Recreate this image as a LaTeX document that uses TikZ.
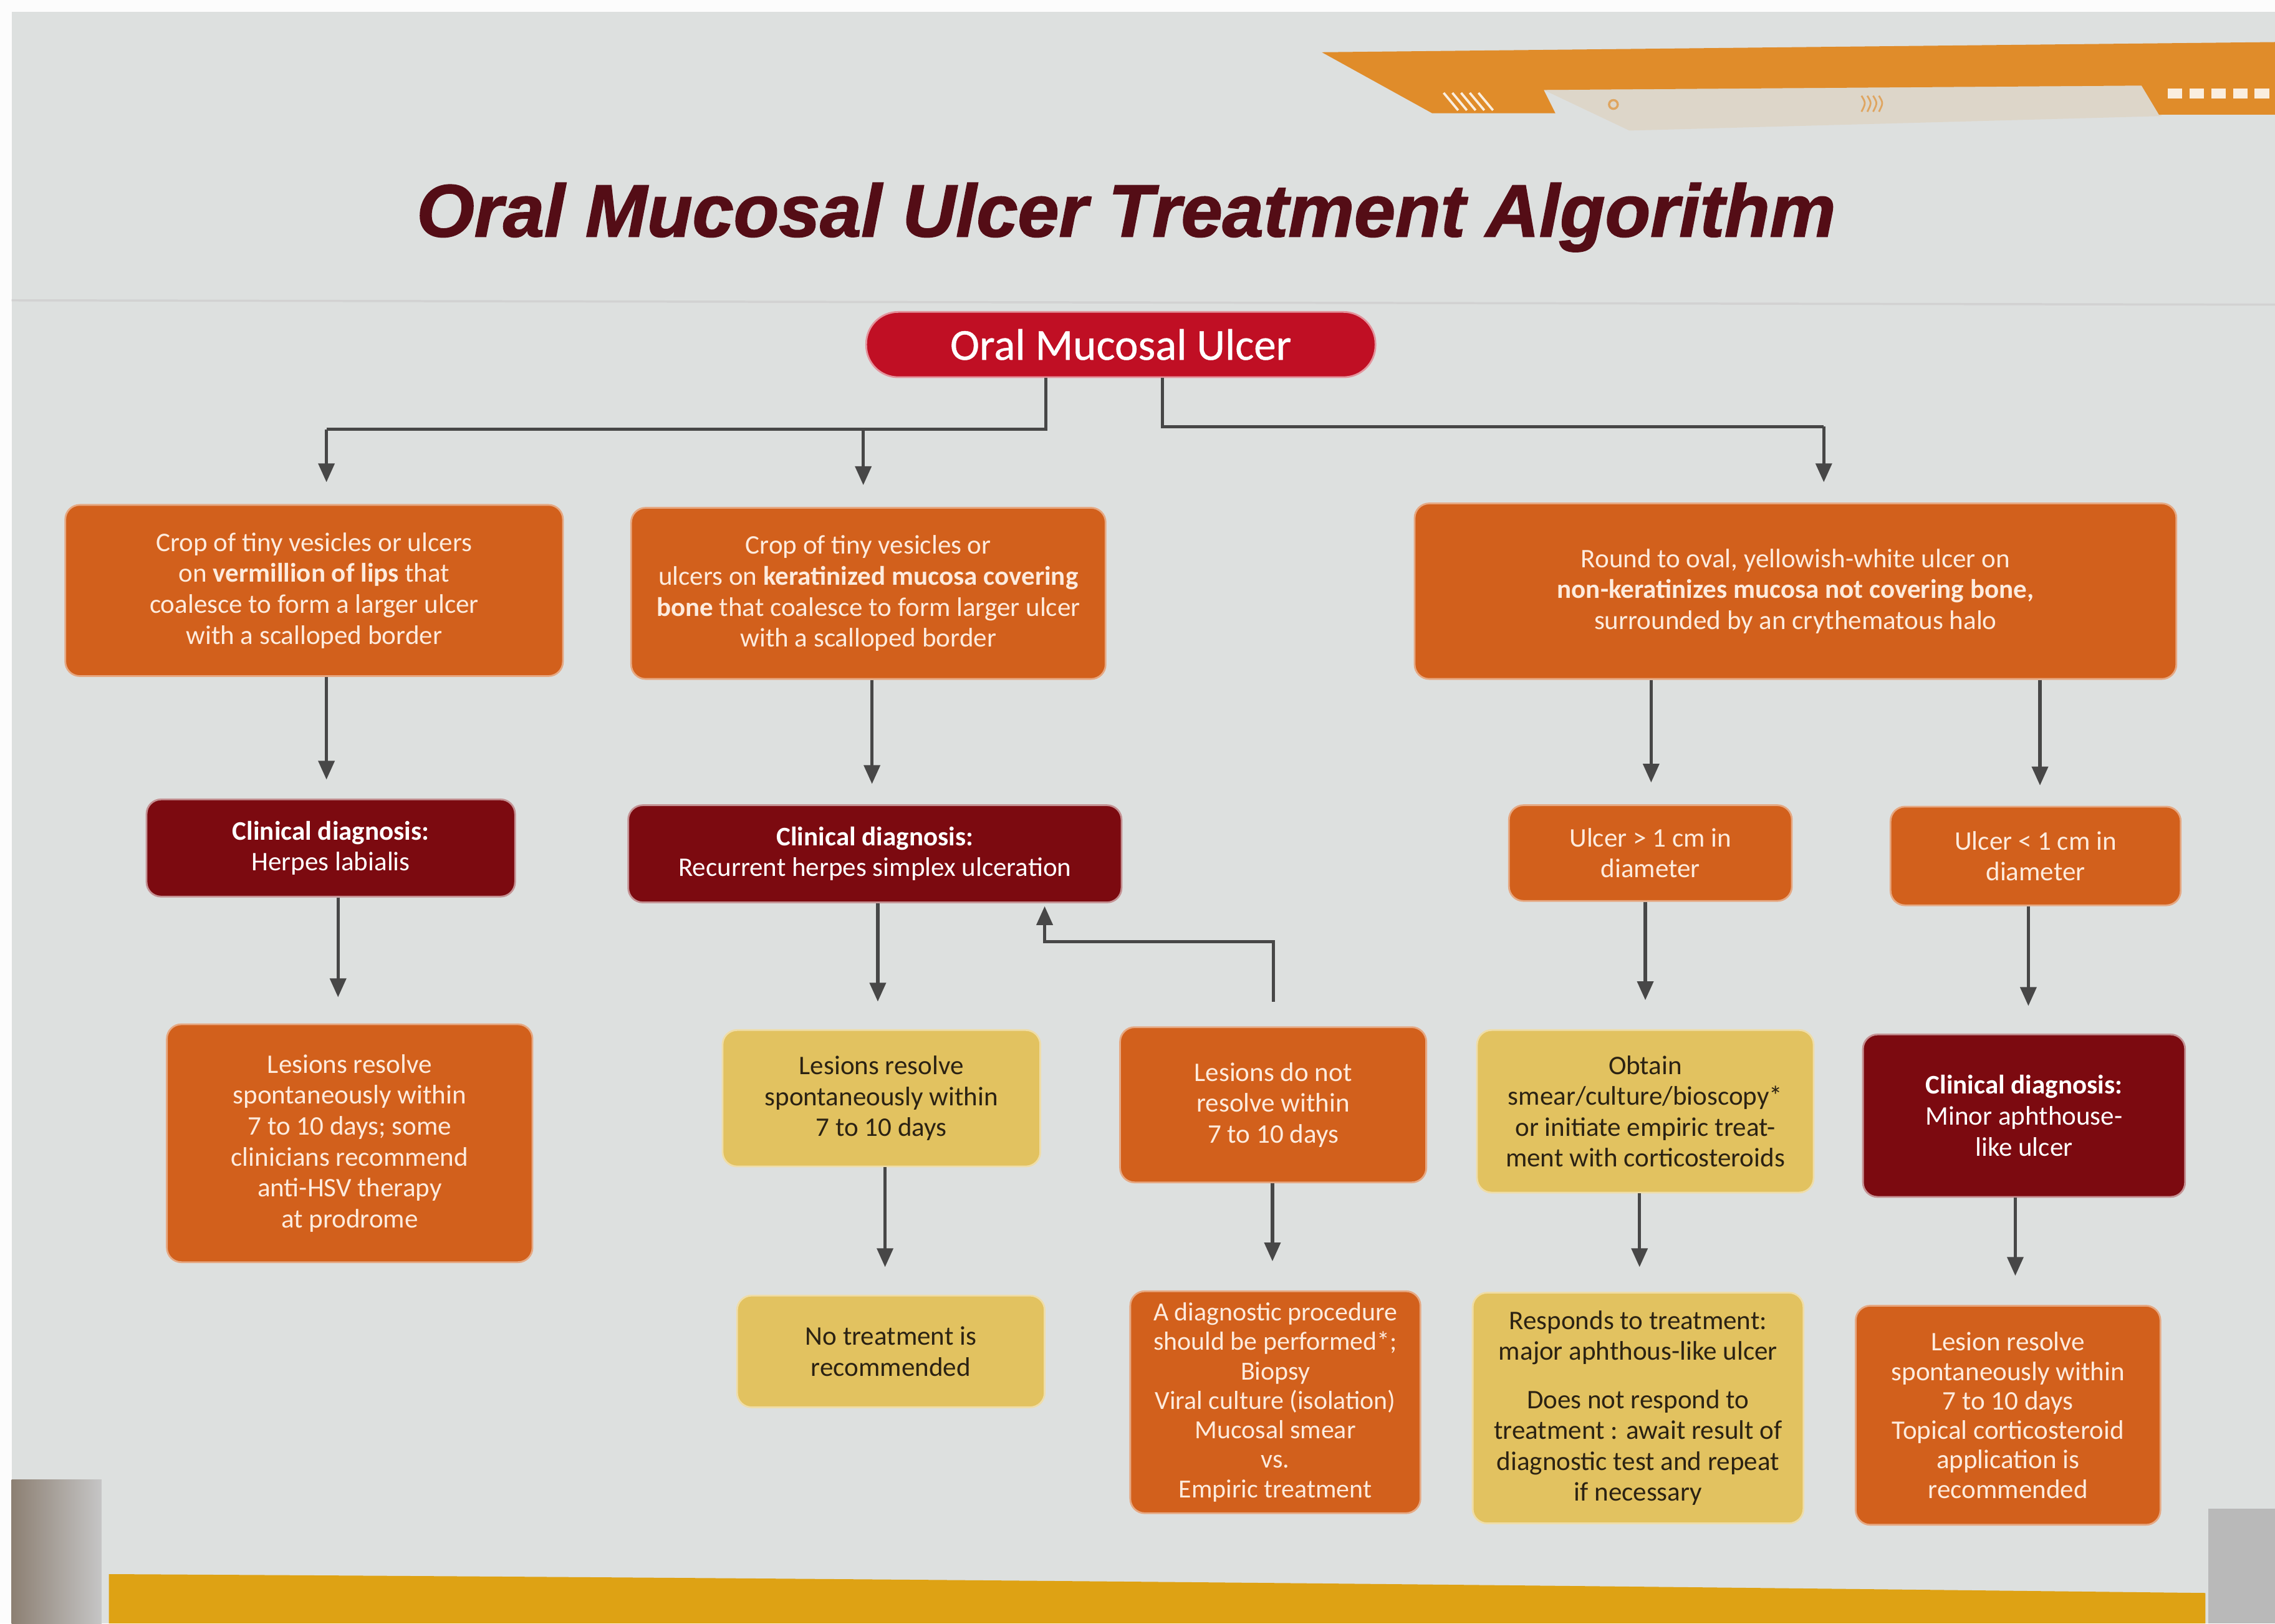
\documentclass[tikz,border=0pt]{standalone}
\usepackage{fontspec}
\usepackage{graphicx}
\setmainfont{Carlito}
\newfontfamily\titlefont[FakeBold=1.6]{Liberation Sans}
\newfontfamily\rootfont[FakeBold=0.6]{Carlito}
\usetikzlibrary{arrows.meta}
\definecolor{bg}{HTML}{DDE0DF}
\definecolor{boxor}{HTML}{D2601C}
\definecolor{boxdr}{HTML}{7C0A10}
\definecolor{rootred}{HTML}{C00F24}
\definecolor{boxye}{HTML}{E2C260}
\definecolor{titlec}{HTML}{540D16}
\definecolor{lnc}{HTML}{474747}
\definecolor{otext}{HTML}{FDEBDD}
\definecolor{ytext}{HTML}{2B2213}
\definecolor{decor}{HTML}{E08C2A}
\definecolor{band}{HTML}{DEA214}
\tikzset{
  base/.style={rounded corners=10pt, inner sep=0pt, align=center,
    font=\fontsize{18.5}{21.3}\selectfont, line width=1.2pt},
  obox/.style={base, fill=boxor, draw=boxor!55!white, text=otext},
  rbox/.style={base, fill=boxdr, draw=boxdr!45!white, text=white},
  ybox/.style={base, fill=boxye, draw=boxye!55!white, text=ytext},
  ln/.style={draw=lnc, line width=2.2pt},
  arr/.style={ln, -{Triangle[length=13pt,width=11pt]}},
}
\begin{document}
\begin{tikzpicture}[x=1pt,y=-1pt]
\useasboundingbox (0,0) rectangle (1568,1119);
% background
\fill[bg] (0,0) rectangle (1568,1119);
\fill[white!92!bg] (0,0) rectangle (1568,8);
\fill[white!92!bg] (0,0) rectangle (8,1119);
\shade[left color=gray!80!brown, right color=gray!45] (8,1020) rectangle (70,1119);
\fill[gray!55] (1522,1040) rectangle (1568,1119);
\draw[gray!35, line width=1.5pt] (8,207) -- (1568,210);
% bottom band
\fill[band] (75,1085) .. controls (600,1088) and (1000,1092) .. (1520,1098) -- (1520,1119) -- (75,1119) -- cycle;
% top-right decoration
\fill[decor!12!bg] (1064,62) -- (1476,59) -- (1490,80) -- (1123,90) -- cycle;
\fill[decor] (911,36) -- (1568,29) -- (1568,79) -- (1488,79) -- (1476,59) -- (1064,62) -- (1072,78) -- (987,78) -- cycle;
\foreach \i in {0,...,4}{
  \draw[white!85!decor, line width=1.6pt] (995+\i*6,64) -- (1005+\i*6,76);
}
\foreach \i in {0,...,4}{
  \fill[white!85!decor] (1494+\i*15,61) rectangle (1504+\i*15,68);
}
\draw[decor!70!bg, line width=1.5pt] (1112,72) circle (3pt);
\foreach \i in {0,...,3}{
  \draw[decor!70!bg, line width=1.2pt] (1283+\i*4,66) .. controls (1286+\i*4,71) .. (1283+\i*4,77);
}
% title
\node[anchor=base west, inner sep=0pt, text=titlec] (title) at (287,163)
  {\resizebox{978pt}{!}{\titlefont\bfseries\itshape\fontsize{49}{55}\selectfont Oral Mucosal Ulcer Treatment Algorithm}};
% root
\node[base, fill=rootred, draw=rootred!45!white, text=white, rounded corners=22pt,
  minimum width=351pt, minimum height=45pt, font=\rootfont\fontsize{30.5}{33}\selectfont] (root) at (772.5,237.5) {Oral Mucosal Ulcer};
% row A
\node[obox, minimum width=343pt, minimum height=118pt] (a1) at (216.5,407)
  {Crop of tiny vesicles or ulcers\\ on \textbf{vermillion of lips} that\\ coalesce to form a larger ulcer\\ with a scalloped border};
\node[obox, minimum width=327pt, minimum height=118pt] (a2) at (598.5,409)
  {Crop of tiny vesicles or\\ ulcers on \textbf{keratinized mucosa covering}\\ \textbf{bone} that coalesce to form larger ulcer\\ with a scalloped border};
\node[obox, minimum width=525pt, minimum height=121pt] (a3) at (1237.5,407.5)
  {Round to oval, yellowish-white ulcer on\\ \textbf{non-keratinizes mucosa not covering bone,}\\ surrounded by an crythematous halo};
% row B
\node[rbox, minimum width=254pt, minimum height=67pt] (b1) at (228,584.5)
  {\textbf{Clinical diagnosis:}\\ Herpes labialis};
\node[rbox, minimum width=340pt, minimum height=67pt] (b2) at (603,588.5)
  {\textbf{Clinical diagnosis:}\\ Recurrent herpes simplex ulceration};
\node[obox, minimum width=195pt, minimum height=66pt] (b3) at (1137.5,588)
  {Ulcer > 1 cm in\\ diameter};
\node[obox, minimum width=200pt, minimum height=68pt] (b4) at (1403,590)
  {Ulcer < 1 cm in\\ diameter};
% row C
\node[obox, minimum width=252pt, minimum height=164pt] (c1) at (241,788)
  {Lesions resolve\\ spontaneously within\\ 7 to 10 days; some\\ clinicians recommend\\ anti-HSV therapy\\ at prodrome};
\node[ybox, minimum width=219pt, minimum height=94pt] (c2) at (607.5,757)
  {Lesions resolve\\ spontaneously within\\ 7 to 10 days};
\node[obox, minimum width=211pt, minimum height=107pt] (c3) at (877.5,761.5)
  {Lesions do not\\ resolve within\\ 7 to 10 days};
\node[ybox, minimum width=232pt, minimum height=112pt] (c4) at (1134,766)
  {Obtain\\ smear/culture/bioscopy*\\ or initiate empiric treat-\\ ment with corticosteroids};
\node[rbox, minimum width=222pt, minimum height=112pt] (c5) at (1395,769)
  {\textbf{Clinical diagnosis:}\\ Minor aphthouse-\\ like ulcer};
% row D
\node[ybox, minimum width=212pt, minimum height=77pt] (d1) at (614,931.5)
  {No treatment is\\ recommended};
\node[obox, minimum width=200pt, minimum height=153pt, font=\fontsize{18}{20.3}\selectfont] (d2) at (879,966.5)
  {A diagnostic procedure\\ should be performed*;\\ Biopsy\\ Viral culture (isolation)\\ Mucosal smear\\ vs.\\ Empiric treatment};
\node[ybox, minimum width=228pt, minimum height=159pt] (d3) at (1129,970.5)
  {Responds to treatment:\\ major aphthous-like ulcer\\[12pt] Does not respond to\\ treatment : await result of\\ diagnostic test and repeat\\ if necessary};
\node[obox, minimum width=210pt, minimum height=151pt, font=\fontsize{18.5}{20.3}\selectfont] (d4) at (1384,975.5)
  {Lesion resolve\\ spontaneously within\\ 7 to 10 days\\ Topical corticosteroid\\ application is\\ recommended};
% connector coordinates
\coordinate (p1) at (225,296);
\coordinate (p2) at (595,296);
\coordinate (p3) at (1257,294);
\coordinate (xa1) at (225,0);
\coordinate (xa2) at (601,0);
\coordinate (xa3) at (1138,0);
\coordinate (xa4) at (1406,0);
\coordinate (xb1) at (233,0);
\coordinate (xb2) at (605,0);
\coordinate (xb3) at (1134,0);
\coordinate (xb4) at (1398,0);
\coordinate (xc2) at (610,0);
\coordinate (xc3) at (877,0);
\coordinate (xc4) at (1130,0);
\coordinate (xc5) at (1389,0);
\coordinate (fb) at (720,649);
% root connectors
\draw[ln] ([xshift=-51.5pt]root.south) |- (p1);
\draw[arr, shorten >=15pt] (p1) -- (p1 |- a1.north);
\draw[arr, shorten >=15pt] (p2) -- (p2 |- a2.north);
\draw[ln] ([xshift=28.5pt]root.south) |- (p3);
\draw[arr, shorten >=14pt] (p3) -- (p3 |- a3.north);
% A -> B
\draw[arr, shorten >=13pt] (a1.south -| xa1) -- (b1.north -| xa1);
\draw[arr, shorten >=14pt] (a2.south -| xa2) -- (b2.north -| xa2);
\draw[arr, shorten >=15pt] (a3.south -| xa3) -- (b3.north -| xa3);
\draw[arr, shorten >=14pt] (a3.south -| xa4) -- (b4.north -| xa4);
% B -> C
\draw[arr, shorten >=18pt] (b1.south -| xb1) -- (c1.north -| xb1);
\draw[arr, shorten >=19pt] (b2.south -| xb2) -- (c2.north -| xb2);
\draw[arr, shorten >=20pt] (b3.south -| xb3) -- (c4.north -| xb3);
\draw[arr, shorten >=19pt] (b4.south -| xb4) -- (c5.north -| xb4);
% C -> D
\draw[arr, shorten >=19pt] (c2.south -| xc2) -- (d1.north -| xc2);
\draw[arr, shorten >=20pt] (c3.south -| xc3) -- (d2.north -| xc3);
\draw[arr, shorten >=17pt] (c4.south -| xc4) -- (d3.north -| xc4);
\draw[arr, shorten >=20pt] (c5.south -| xc5) -- (d4.north -| xc5);
% feedback
\draw[arr, shorten <=17pt, shorten >=2pt] (c3.north) |- (fb) -- (b2.south -| fb);
\end{tikzpicture}
\end{document}
